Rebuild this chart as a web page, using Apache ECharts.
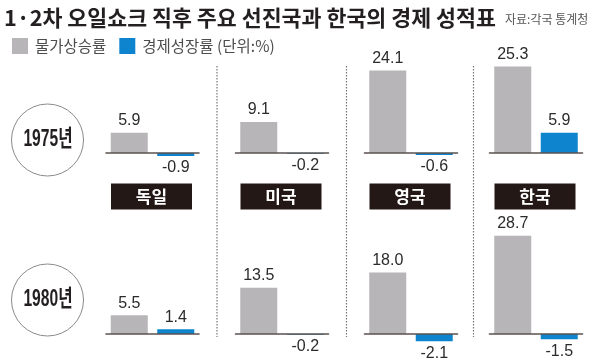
<!DOCTYPE html>
<html>
<head>
<meta charset="utf-8">
<script src="https://cdn.jsdelivr.net/npm/echarts@6/dist/echarts.min.js"></script>
<style>
html,body{margin:0;padding:0;background:#fff;}
#chart{width:601px;height:363px;}
</style>
</head>
<body>
<div id="chart"></div>
<script>
// ---- data ----
const titleText = '1·2차 오일쇼크 직후 주요 선진국과 한국의 경제 성적표';
const sourceText = '자료:각국 통계청';
const seriesNames = ['물가상승률', '경제성장률'];
const unitText = ' (단위:%)';
const countries = ['독일', '미국', '영국', '한국'];
const years = ['1975년', '1980년'];
const inflation1975 = [5.9, 9.1, 24.1, 25.3];
const growth1975 = [-0.9, -0.2, -0.6, 5.9];
const inflation1980 = [5.5, 13.5, 18.0, 28.7];
const growth1980 = [1.4, -0.2, -2.1, -1.5];

// ---- layout ----
const colLeft = [106, 235.5, 364.5, 489.5];
const colW = 93;
const baseY = [153, 334];
const ppu = 3.42;
const yMax = 30, yMin = -5;
const GRAY = '#b7b5b8', BLUE = '#0d84cd', DARK = '#231815';
const NUM_FONT = '"Liberation Sans Narrow", "Liberation Sans", "Noto Sans CJK KR", sans-serif';
const KR_FONT = '"Noto Sans CJK KR", sans-serif';
const YEAR_FONT = '"Liberation Sans", "Noto Sans CJK KR", sans-serif';

const rows = [
  { infl: inflation1975, grow: growth1975 },
  { infl: inflation1980, grow: growth1980 }
];

const grids = [], xAxes = [], yAxes = [], series = [];
function item(v) {
  return { value: v, label: { position: v >= 0 ? 'top' : 'bottom' } };
}
const labelCfg = {
  show: true,
  distance: 4,
  fontFamily: NUM_FONT,
  fontSize: 16,
  color: '#2b2b2b',
  formatter: p => (typeof p.value === 'number' ? p.value.toFixed(1) : '')
};
rows.forEach((row, r) => {
  countries.forEach((c, ci) => {
    const gi = grids.length;
    grids.push({ left: colLeft[ci], width: colW, top: baseY[r] - yMax * ppu, height: (yMax - yMin) * ppu });
    xAxes.push({
      type: 'category', gridIndex: gi, data: seriesNames, z: 10,
      axisLine: { show: true, onZero: true, lineStyle: { color: '#5b5150', width: 1.6 } },
      axisTick: { show: false }, axisLabel: { show: false }, splitLine: { show: false }
    });
    yAxes.push({ type: 'value', gridIndex: gi, min: yMin, max: yMax, show: false, splitLine: { show: false } });
    series.push({
      type: 'bar', name: seriesNames[0], xAxisIndex: gi, yAxisIndex: gi, stack: 's' + gi,
      barWidth: 37, itemStyle: { color: GRAY }, label: labelCfg,
      data: [item(row.infl[ci]), null]
    });
    series.push({
      type: 'bar', name: seriesNames[1], xAxisIndex: gi, yAxisIndex: gi, stack: 's' + gi,
      barWidth: 37, itemStyle: { color: BLUE }, label: labelCfg,
      data: [null, item(row.grow[ci])]
    });
  });
});

const graphics = [];
graphics.push({
  type: 'text', x: 4, y: 18,
  style: { text: titleText, font: 'bold 21.7px ' + KR_FONT, fill: '#231f20', textAlign: 'left', textVerticalAlign: 'middle' }
});
graphics.push({
  type: 'text', x: 505, y: 19,
  style: { text: sourceText, font: '12px ' + KR_FONT, fill: '#555', textAlign: 'left', textVerticalAlign: 'middle' }
});
// separators
[217, 346.5, 473.5].forEach(x => {
  graphics.push({
    type: 'line', shape: { x1: x, y1: 66, x2: x, y2: 337 },
    style: { stroke: '#777', lineWidth: 1.2, lineDash: [1.5, 1.5] }
  });
});
// country boxes
countries.forEach((c, ci) => {
  graphics.push({
    type: 'rect', shape: { x: colLeft[ci] + 5, y: 183.5, width: 81, height: 26 },
    style: { fill: DARK }
  });
  graphics.push({
    type: 'text', x: colLeft[ci] + 5 + 40.5, y: 196.5,
    style: { text: c, font: 'bold 17px ' + KR_FONT, fill: '#fff', textAlign: 'center', textVerticalAlign: 'middle' }
  });
});
// year circles
years.forEach((yv, r) => {
  const cy = [140, 300][r];
  graphics.push({
    type: 'circle', shape: { cx: 47.5, cy: cy, r: 36 },
    style: { fill: '#fff', stroke: '#8a8a8a', lineWidth: 1 }
  });
  graphics.push({
    type: 'text', x: 48, y: cy, scaleX: 0.68,
    style: { text: yv, font: 'bold 23px ' + YEAR_FONT, fill: '#231f20', textAlign: 'center', textVerticalAlign: 'middle' }
  });
});

const chart = echarts.init(document.getElementById('chart'), null, { renderer: 'canvas' });
chart.setOption({
  animation: false,
  backgroundColor: '#fff',
  legend: {
    left: 7, top: 33, itemWidth: 16, itemHeight: 16, itemGap: 13, icon: 'rect', selectedMode: false,
    data: seriesNames,
    formatter: n => (n === seriesNames[1] ? n + unitText : n),
    textStyle: { fontFamily: KR_FONT, fontSize: 15.5, color: '#4d4d4d', padding: [0, 0, 0, 2] }
  },
  grid: grids,
  xAxis: xAxes,
  yAxis: yAxes,
  series: series,
  graphic: { elements: graphics }
});
</script>
</body>
</html>
